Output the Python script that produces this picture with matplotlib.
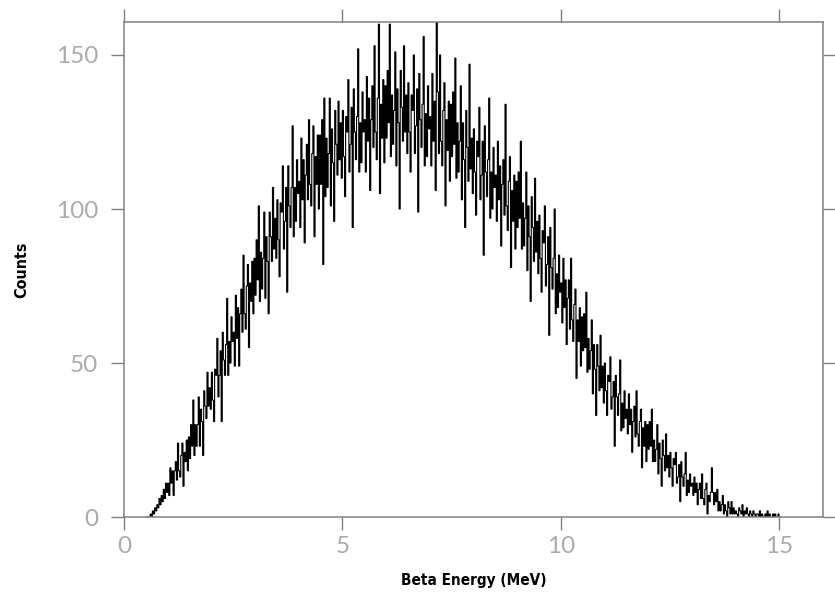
import numpy as np
import matplotlib.pyplot as plt

# ---------------------------------------------------------------------------
# Beta spectrum, counts per 0.025 MeV bin starting at 0.5 MeV
# (one row = 0.5 MeV)
# ---------------------------------------------------------------------------
bin_start = 0.5
bin_width = 0.025

counts = [
    0, 0, 0, 0, 1, 0, 2, 1, 3, 2, 4, 3, 6, 4, 7, 5, 9, 6, 11, 8,                       # 0.5
    11, 7, 16, 11, 15, 7, 15, 18, 12, 24, 15, 13, 20, 24, 10, 21, 18, 25, 15, 26,      # 1.0
    19, 30, 23, 38, 20, 30, 23, 30, 39, 23, 35, 31, 20, 41, 36, 32, 47, 36, 42, 35,    # 1.5
    47, 38, 31, 48, 46, 58, 39, 46, 54, 31, 60, 51, 46, 56, 71, 46, 57, 50, 65, 57,    # 2.0
    60, 49, 72, 58, 68, 49, 66, 74, 60, 85, 66, 61, 75, 82, 55, 76, 70, 83, 66, 84,    # 2.5
    72, 90, 77, 101, 70, 86, 74, 84, 99, 71, 91, 83, 66, 99, 91, 83, 107, 87, 97, 84,  # 3.0
    103, 90, 78, 102, 99, 114, 87, 96, 107, 73, 114, 101, 94, 107, 127, 91, 107, 96, 116, 105,     # 3.5
    109, 94, 123, 103, 116, 89, 111, 121, 103, 129, 108, 101, 118, 127, 91, 117, 108, 124, 100, 124,  # 4.0
    108, 129, 82, 136, 104, 123, 107, 118, 136, 101, 126, 115, 96, 132, 121, 111, 135, 116, 128, 110,  # 4.5
    132, 117, 104, 130, 125, 142, 112, 121, 133, 94, 139, 125, 116, 130, 152, 112, 128, 115, 138, 125, # 5.0
    129, 112, 143, 122, 136, 106, 129, 140, 120, 153, 125, 116, 136, 160, 105, 134, 123, 142, 115, 140, # 5.5
    123, 145, 128, 160, 117, 137, 121, 132, 151, 114, 139, 128, 100, 145, 133, 122, 153, 125, 137, 118, # 6.0
    141, 125, 112, 137, 132, 150, 118, 127, 139, 99, 144, 129, 120, 134, 156, 114, 131, 117, 140, 126,  # 6.5
    130, 114, 144, 122, 135, 106, 161, 138, 118, 150, 122, 114, 132, 141, 101, 129, 119, 135, 109, 134, # 7.0
    117, 138, 121, 149, 110, 128, 112, 122, 140, 103, 128, 116, 94, 132, 120, 109, 147, 113, 123, 105,  # 7.5
    126, 112, 98, 122, 117, 133, 103, 111, 122, 85, 127, 112, 104, 116, 136, 97, 112, 100, 120, 107,    # 8.0
    111, 96, 122, 103, 114, 88, 108, 116, 98, 134, 101, 93, 109, 117, 81, 106, 96, 111, 87, 109,        # 8.5
    94, 112, 97, 122, 87, 102, 88, 97, 112, 80, 101, 91, 70, 104, 94, 83, 110, 86, 96, 79,             # 9.0
    98, 84, 73, 93, 89, 101, 75, 82, 91, 59, 94, 81, 74, 84, 100, 66, 79, 68, 85, 73,                  # 9.5
    76, 63, 84, 68, 77, 56, 71, 77, 61, 84, 64, 57, 69, 74, 45, 64, 57, 68, 49, 65,                    # 10.0
    54, 66, 55, 73, 47, 58, 48, 54, 64, 40, 56, 48, 33, 56, 49, 41, 59, 42, 49, 37,                    # 10.5
    50, 41, 33, 46, 44, 52, 35, 39, 44, 23, 46, 39, 33, 40, 51, 28, 37, 29, 41, 32,                    # 11.0
    35, 27, 40, 30, 35, 21, 31, 36, 26, 41, 27, 23, 31, 35, 16, 29, 23, 31, 18, 30,                    # 11.5
    22, 31, 23, 35, 18, 25, 18, 22, 30, 14, 24, 19, 10, 25, 20, 15, 27, 16, 20, 13,                    # 12.0
    21, 16, 10, 19, 17, 21, 11, 13, 17, 5, 18, 13, 10, 14, 21, 7, 12, 8, 14, 10,                       # 12.5
    11, 7, 13, 8, 11, 4, 9, 11, 6, 14, 6, 4, 9, 11, 1, 7, 5, 8, 16, 8,                                 # 13.0
    4, 8, 5, 9, 2, 5, 2, 4, 7, 1, 4, 2, 0, 5, 3, 1, 5, 1, 3, 1,                                        # 13.5
    2, 1, 0, 3, 2, 1, 4, 0, 2, 1, 3, 1, 0, 2, 1, 0, 2, 1, 0, 1,                                        # 14.0
    1, 0, 2, 0, 1, 0, 0, 1, 0, 2, 0, 1, 0, 0, 1, 0, 1, 0, 0, 1,                                        # 14.5
]

x_ticks = [0, 5, 10, 15]
y_ticks = [0, 50, 100, 150]

edges = bin_start + bin_width * np.arange(len(counts) + 1)

# ---------------------------------------------------------------------------
# Figure
# ---------------------------------------------------------------------------
fig = plt.figure(figsize=(8.35, 5.95), dpi=100)
ax = fig.add_axes([0.1485, 0.131, 0.8368, 0.832])

ax.stairs(counts, edges, color='black', linewidth=0.8)

ax.set_xlim(0, 16.0)
ax.set_ylim(0, 160.7)
ax.set_xticks(x_ticks)
ax.set_yticks(y_ticks)

spine_col = '#808080'
for s in ax.spines.values():
    s.set_color(spine_col)
    s.set_linewidth(1.1)

ax.tick_params(which='both', direction='out', length=9.5, width=1.0,
               color=spine_col, top=True, right=True,
               labeltop=False, labelright=False)
ax.tick_params(axis='y', pad=9)
ax.tick_params(axis='x', pad=4)

for lab in ax.get_xticklabels() + ax.get_yticklabels():
    lab.set_family('Lato')
    lab.set_fontweight('normal')
    lab.set_fontsize(17.5)
    lab.set_color('#ababab')

ax.set_xlabel('Beta Energy (MeV)', family='DejaVu Sans', fontstretch='condensed',
              fontweight='bold', fontsize=11, labelpad=12)
ax.set_ylabel('Counts', family='DejaVu Sans', fontstretch='condensed',
              fontweight='bold', fontsize=11.5, labelpad=19)

fig.savefig('out.png', dpi=100)
